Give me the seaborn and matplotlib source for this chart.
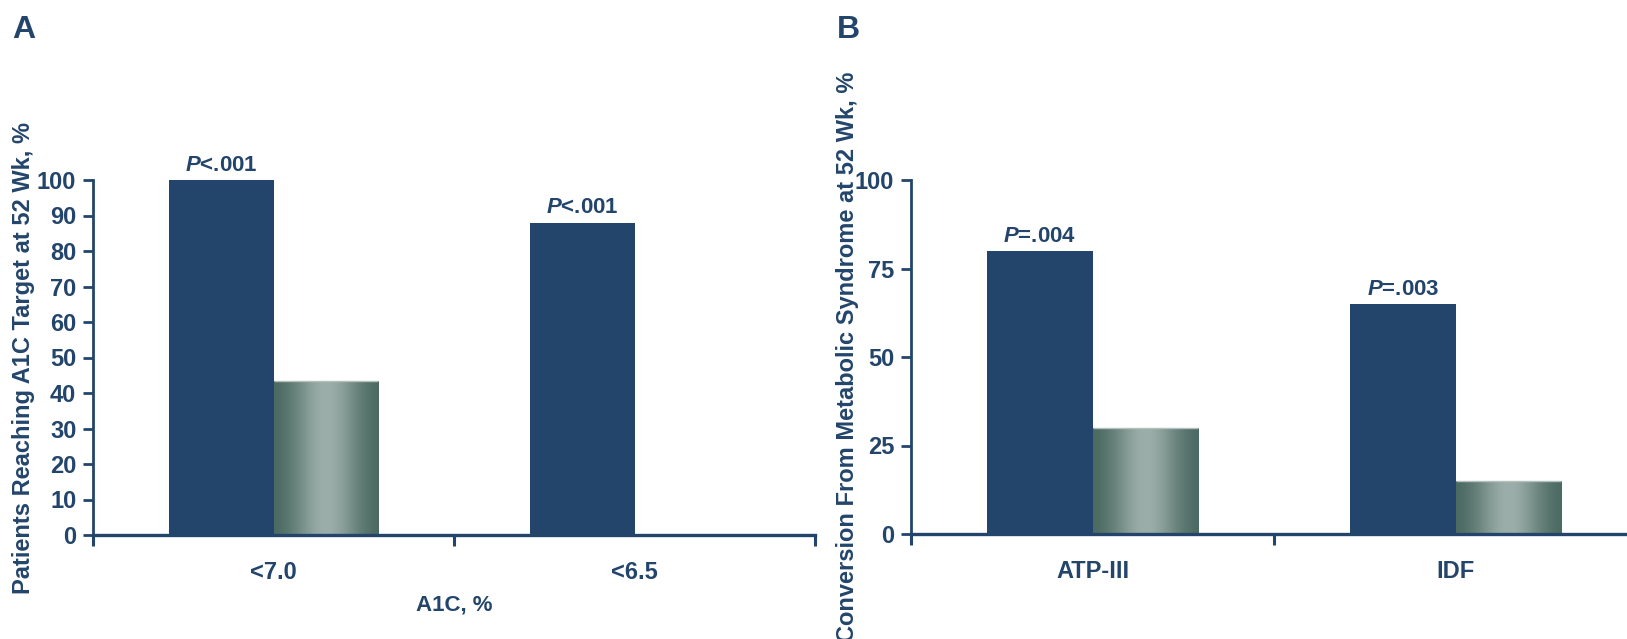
import numpy as np
import pandas as pd
import matplotlib
matplotlib.use("Agg")
import matplotlib.pyplot as plt
from matplotlib import font_manager
from matplotlib.colors import LinearSegmentedColormap
import seaborn as sns

# Panel A: proportion of patients reaching A1C targets
a1c_targets = ["<7.0", "<6.5"]
a1c_treatment = [100, 88]
a1c_control = [43.5, 0]
a1c_pvalues = ["<.001", "<.001"]
a1c_yticks = [0, 10, 20, 30, 40, 50, 60, 70, 80, 90, 100]

# Panel B: conversion from metabolic syndrome
mets_criteria = ["ATP-III", "IDF"]
mets_treatment = [80, 65]
mets_control = [30, 15]
mets_pvalues = ["=.004", "=.003"]
mets_yticks = [0, 25, 50, 75, 100]

NAVY = "#23456b"
STEEL = "#6f8882"

sns.set_theme(style="white")
plt.rcParams["font.family"] = ["Liberation Sans", "DejaVu Sans"]
plt.rcParams["mathtext.fontset"] = "custom"
plt.rcParams["mathtext.it"] = "Liberation Sans:italic:bold"
plt.rcParams["mathtext.rm"] = "Liberation Sans:bold"

available = {f.name for f in font_manager.fontManager.ttflist}
NARROW = "Liberation Sans Narrow" if "Liberation Sans Narrow" in available else "Liberation Sans"

# brushed-metal style shading for the control bars
metal = LinearSegmentedColormap.from_list("metal", ["#4b6a62", "#9caea9"])
g = np.linspace(0, 1, 256)
profile = np.exp(-((g - 0.5) / 0.32) ** 2)[np.newaxis, :]


def draw_panel(ax, cats, treat, ctrl, pvals, yticks, ylabel, xlabel, label_x):
    df = pd.DataFrame({
        "category": cats * 2,
        "arm": ["treatment"] * len(cats) + ["control"] * len(cats),
        "value": treat + ctrl,
    })
    sns.barplot(data=df, x="category", y="value", hue="arm", order=cats,
                hue_order=["treatment", "control"], palette=[NAVY, STEEL],
                width=0.58, gap=0, saturation=1, errorbar=None, legend=False,
                linewidth=0, ax=ax)

    n = len(cats)
    bars = list(ax.patches)
    treat_bars, ctrl_bars = bars[:n], bars[n:]

    for p in ctrl_bars:
        h = p.get_height()
        if h <= 0:
            continue
        x0, w = p.get_x(), p.get_width()
        im = ax.imshow(profile, cmap=metal, extent=[x0, x0 + w, 0, h],
                       aspect="auto", interpolation="bicubic",
                       zorder=p.get_zorder() + 0.1)
        im.set_clip_path(p)
        ax.plot([x0, x0 + w], [h, h], color="#b3c0bc", lw=1.0,
                zorder=p.get_zorder() + 0.2, solid_capstyle="butt")

    for p, txt in zip(treat_bars, pvals):
        ax.annotate(r"$P$" + txt, xy=(p.get_x() + p.get_width() / 2, p.get_height()),
                    xytext=(0, 3), textcoords="offset points", ha="center",
                    va="bottom", fontsize=16, fontweight="bold", color=NAVY,
                    annotation_clip=False)

    ax.set_xlim(-0.5, n - 0.5)
    ax.set_ylim(0, 100)
    ax.set_yticks(yticks)
    ax.set_yticklabels([str(t) for t in yticks])

    ax.set_xticks(np.arange(n + 1) - 0.5)
    ax.set_xticklabels([])
    ax.set_xticks(np.arange(n), minor=True)
    ax.set_xticklabels(cats, minor=True)
    for lab in ax.get_xticklabels(minor=True):
        lab.set_fontfamily(NARROW)
        lab.set_fontweight("bold")
        lab.set_fontsize(17)
        lab.set_color(NAVY)

    ax.tick_params(axis="x", which="major", direction="out", length=8,
                   width=2.2, color=NAVY, bottom=True)
    ax.tick_params(axis="x", which="minor", length=0, pad=19, bottom=True)
    ax.tick_params(axis="y", direction="out", length=7, width=2, color=NAVY,
                   left=True, pad=5, labelsize=17, labelcolor=NAVY)
    for lab in ax.get_yticklabels():
        lab.set_fontweight("bold")

    sns.despine(ax=ax)
    ax.spines["left"].set_color(NAVY)
    ax.spines["left"].set_linewidth(2)
    ax.spines["bottom"].set_color(NAVY)
    ax.spines["bottom"].set_linewidth(2.4)
    ax.spines["bottom"].set_zorder(5)

    ax.set_ylabel(ylabel, fontsize=17, fontweight="bold", color=NAVY)
    ax.yaxis.set_label_coords(label_x, 0.5)
    if xlabel:
        ax.set_xlabel(xlabel, fontsize=16, fontweight="bold", color=NAVY,
                      fontfamily=NARROW, labelpad=7)
    else:
        ax.set_xlabel("")


fig = plt.figure(figsize=(16.27, 6.39), dpi=100)
ax_a = fig.add_axes([93 / 1627, 104 / 639, 722 / 1627, 355 / 639])
ax_b = fig.add_axes([911 / 1627, 105 / 639, 726 / 1627, 354 / 639])

draw_panel(ax_a, a1c_targets, a1c_treatment, a1c_control, a1c_pvalues,
           a1c_yticks, "Patients Reaching A1C Target at 52 Wk, %", "A1C, %", -0.080)
draw_panel(ax_b, mets_criteria, mets_treatment, mets_control, mets_pvalues,
           mets_yticks, "Conversion From Metabolic Syndrome at 52 Wk, %", None, -0.072)

fig.text(12 / 1627, 1 - 38 / 639, "A", fontsize=23, fontweight="bold", color=NAVY)
fig.text(837 / 1627, 1 - 38 / 639, "B", fontsize=23, fontweight="bold", color=NAVY)

fig.savefig("out.png", dpi=100, facecolor="white")
